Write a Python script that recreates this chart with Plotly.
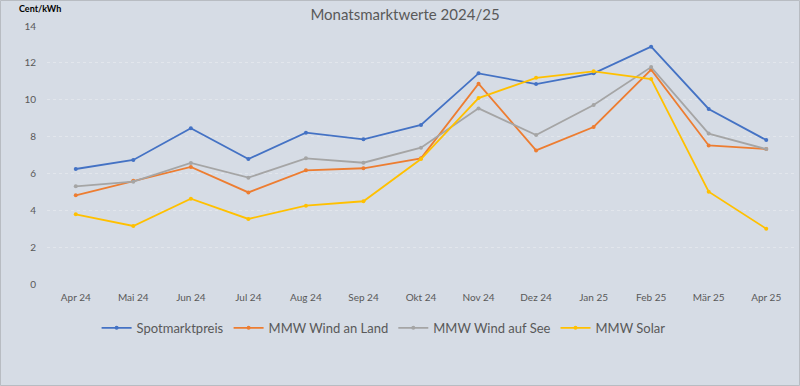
import plotly.graph_objects as go

months = ["Apr 24", "Mai 24", "Jun 24", "Jul 24", "Aug 24", "Sep 24", "Okt 24",
          "Nov 24", "Dez 24", "Jan 25", "Feb 25", "Mär 25", "Apr 25"]
spot = [6.24, 6.73, 8.45, 6.78, 8.21, 7.85, 8.63, 11.43, 10.85, 11.43, 12.88, 9.50, 7.81]
wind_land = [4.81, 5.60, 6.35, 4.97, 6.17, 6.28, 6.82, 10.87, 7.25, 8.52, 11.63, 7.52, 7.32]
wind_see = [5.30, 5.55, 6.57, 5.77, 6.82, 6.58, 7.40, 9.53, 8.08, 9.71, 11.77, 8.16, 7.32]
solar = [3.78, 3.15, 4.63, 3.53, 4.25, 4.49, 6.78, 10.09, 11.19, 11.54, 11.12, 5.01, 3.00]

series = [
    ("Spotmarktpreis", spot, "#4472c4"),
    ("MMW Wind an Land", wind_land, "#ed7d31"),
    ("MMW Wind auf See", wind_see, "#a5a5a5"),
    ("MMW Solar", solar, "#ffc000"),
]

fig = go.Figure()
for name, vals, col in series:
    fig.add_trace(go.Scatter(
        x=months, y=vals, name=name, mode="lines+markers",
        line=dict(color=col, width=1.8),
        marker=dict(color=col, size=4),
    ))

bg = "#d6dce5"
L, R, T, B = 47, 5, 26, 102
pw, ph = 800 - L - R, 386 - T - B

fig.update_layout(
    width=800, height=386,
    margin=dict(l=L, r=R, t=T, b=B),
    paper_bgcolor=bg, plot_bgcolor=bg,
    font=dict(family="Lato, 'Open Sans', sans-serif", color="#595959", size=10),
    title=dict(text="Monatsmarktwerte 2024/25", x=405 / 800, xanchor="center",
               y=1 - 15 / 386, yanchor="middle",
               font=dict(size=15, color="#595959")),
    showlegend=True,
    legend=dict(orientation="h", x=0.45, xanchor="center", y=-0.17, yanchor="middle",
                font=dict(size=13, color="#595959"), bgcolor="rgba(0,0,0,0)",
                itemwidth=30, traceorder="normal"),
    xaxis=dict(type="category", range=[-0.5, 12.5], showgrid=False, zeroline=False,
               showline=False, ticks="", tickfont=dict(size=10, color="#595959"),
               ticklabelstandoff=6),
    yaxis=dict(range=[0, 14], dtick=2, showgrid=True, gridcolor="#e2e6ec",
               gridwidth=1, griddash="dot", zeroline=False, showline=False,
               ticks="", tickfont=dict(size=10, color="#595959"), ticklabelstandoff=10),
    annotations=[dict(text="<b>Cent/kWh</b>", xref="paper", yref="paper",
                      x=(17 - L) / pw, y=1 + (T - 9) / ph, xanchor="left", yanchor="middle",
                      showarrow=False, font=dict(size=9, color="#000000"))],
    shapes=[dict(type="rect", xref="paper", yref="paper",
                 x0=(0.5 - L) / pw, x1=(799.5 - L) / pw,
                 y0=-(B - 0.5) / ph, y1=1 + (T - 0.5) / ph,
                 line=dict(color="#b8bcc2", width=1), fillcolor="rgba(0,0,0,0)", layer="below")],
)

fig.write_html("out.html")
